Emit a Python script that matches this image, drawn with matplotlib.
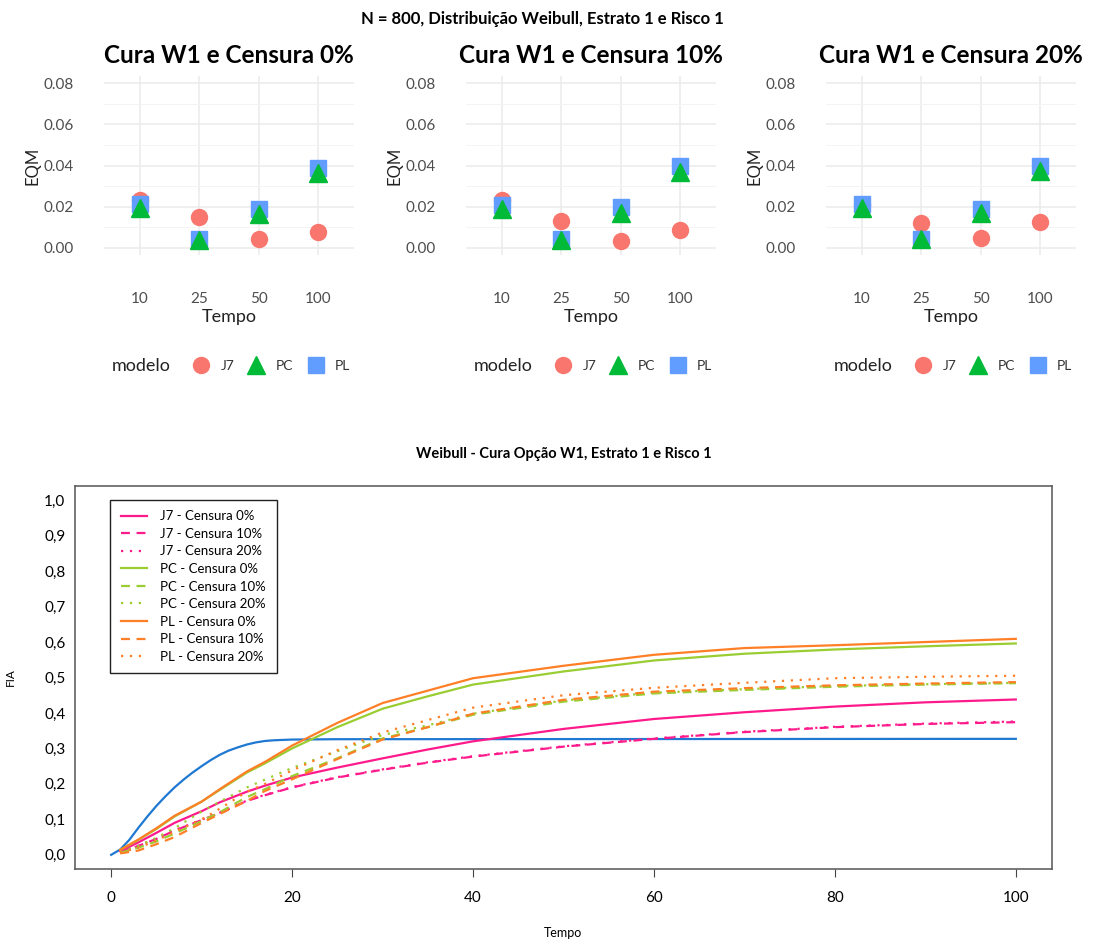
import matplotlib

matplotlib.use("Agg")

import matplotlib.pyplot as plt
from matplotlib.lines import Line2D
from matplotlib.ticker import FixedLocator, MultipleLocator

plt.rcParams["font.family"] = ["Lato", "DejaVu Sans"]

# --- painel superior: EQM por tempo ---
tempos_eqm = ["10", "25", "50", "100"]
censuras = ["0%", "10%", "20%"]
eqm_j7 = [
    [0.0232, 0.0150, 0.0045, 0.0078],
    [0.0234, 0.0133, 0.0036, 0.0089],
    [0.0210, 0.0120, 0.0049, 0.0125],
]
eqm_pc = [
    [0.0192, 0.0037, 0.0165, 0.0364],
    [0.0188, 0.0040, 0.0170, 0.0370],
    [0.0192, 0.0043, 0.0168, 0.0373],
]
eqm_pl = [
    [0.0212, 0.0044, 0.0190, 0.0388],
    [0.0208, 0.0044, 0.0198, 0.0397],
    [0.0216, 0.0045, 0.0190, 0.0400],
]

# --- painel inferior: curvas FIA ---
tempo_curva = [1, 3, 5, 7, 10, 12, 15, 17, 20, 25, 30, 35, 40, 50, 60, 70, 80, 90, 100]
j7_c0 = [0.010, 0.035, 0.062, 0.090, 0.123, 0.148, 0.178, 0.195, 0.218, 0.246, 0.272, 0.297, 0.320,
         0.355, 0.383, 0.402, 0.418, 0.430, 0.438]
j7_c10 = [0.006, 0.025, 0.045, 0.068, 0.098, 0.118, 0.152, 0.168, 0.190, 0.218, 0.240, 0.260, 0.277,
          0.305, 0.327, 0.346, 0.360, 0.369, 0.374]
j7_c20 = [0.007, 0.026, 0.046, 0.069, 0.099, 0.119, 0.153, 0.169, 0.191, 0.219, 0.241, 0.261, 0.278,
          0.306, 0.328, 0.347, 0.361, 0.370, 0.376]
pc_c0 = [0.014, 0.042, 0.073, 0.108, 0.150, 0.183, 0.232, 0.258, 0.300, 0.360, 0.412, 0.447, 0.480,
         0.517, 0.548, 0.567, 0.579, 0.588, 0.596]
pc_c10 = [0.006, 0.020, 0.038, 0.060, 0.095, 0.120, 0.163, 0.185, 0.222, 0.272, 0.328, 0.360, 0.395,
          0.432, 0.455, 0.465, 0.474, 0.480, 0.484]
pc_c20 = [0.008, 0.025, 0.048, 0.075, 0.122, 0.150, 0.190, 0.212, 0.245, 0.292, 0.338, 0.365, 0.398,
          0.435, 0.457, 0.467, 0.476, 0.481, 0.485]
pl_c0 = [0.014, 0.043, 0.075, 0.110, 0.150, 0.185, 0.235, 0.262, 0.308, 0.372, 0.428, 0.463, 0.498,
         0.533, 0.564, 0.583, 0.591, 0.600, 0.609]
pl_c10 = [0.004, 0.012, 0.030, 0.050, 0.090, 0.115, 0.152, 0.180, 0.213, 0.270, 0.325, 0.360, 0.398,
          0.437, 0.460, 0.470, 0.478, 0.483, 0.487]
pl_c20 = [0.006, 0.020, 0.040, 0.065, 0.100, 0.130, 0.178, 0.200, 0.238, 0.295, 0.345, 0.380, 0.415,
          0.450, 0.471, 0.485, 0.498, 0.502, 0.505]

tempo_real = [0, 1, 2, 3, 4, 5, 6, 7, 8, 9, 10, 11, 12, 13, 14, 15, 16, 17, 18, 20, 25, 100]
fia_real = [0.0, 0.015, 0.042, 0.076, 0.108, 0.138, 0.165, 0.190, 0.212, 0.232, 0.250, 0.267, 0.282,
            0.294, 0.303, 0.311, 0.317, 0.321, 0.323, 0.325, 0.326, 0.327]

cor_j7, cor_pc, cor_pl = "#F8766D", "#00BA38", "#619CFF"
rosa, verde, laranja, azul = "#FF1A8C", "#9ACD32", "#FF7F27", "#1F78D1"

fig = plt.figure(figsize=(10.96, 9.40), dpi=100)

fig.text(0.495, 0.980, "N = 800, Distribuição Weibull, Estrato 1 e Risco 1",
         ha="center", va="center", fontsize=12, fontweight="bold")

lefts = [104 / 1096, 466 / 1096, 826 / 1096]
for i, left in enumerate(lefts):
    ax = fig.add_axes([left, 1 - 255 / 940, 250 / 1096, 179 / 940])
    ax.plot(tempos_eqm, eqm_j7[i], "o", color=cor_j7, ms=11.5, ls="none", zorder=3)
    ax.plot(tempos_eqm, eqm_pl[i], "s", color=cor_pl, ms=11, ls="none", zorder=4)
    ax.plot(tempos_eqm, eqm_pc[i], "^", color=cor_pc, ms=13.5, ls="none", zorder=5)
    ax.set_xlim(-0.6, 3.6)
    ax.set_ylim(-0.0034, 0.0835)
    ax.yaxis.set_major_locator(FixedLocator([0.0, 0.02, 0.04, 0.06, 0.08]))
    ax.yaxis.set_minor_locator(MultipleLocator(0.01))
    ax.set_yticklabels(["0.00", "0.02", "0.04", "0.06", "0.08"])
    ax.grid(which="major", color="#EBEBEB", lw=1.1)
    ax.grid(which="minor", axis="y", color="#F4F4F4", lw=0.7)
    ax.set_axisbelow(True)
    for s in ax.spines.values():
        s.set_visible(False)
    ax.tick_params(which="both", length=0)
    ax.tick_params(axis="y", pad=22, labelsize=11, labelcolor="#4D4D4D")
    ax.tick_params(axis="x", pad=27, labelsize=11, labelcolor="#4D4D4D")
    ax.set_xlabel("Tempo", fontsize=13, labelpad=2, color="#222222")
    ax.set_ylabel("EQM", fontsize=12, labelpad=2, color="#222222")
    ax.set_title("Cura W1 e Censura " + censuras[i], fontsize=17.5, fontweight="bold", pad=9)

    handles = [
        Line2D([], [], marker="o", ls="none", color=cor_j7, ms=11.5),
        Line2D([], [], marker="^", ls="none", color=cor_pc, ms=13.5),
        Line2D([], [], marker="s", ls="none", color=cor_pl, ms=11),
    ]
    ax.text(0.03, -0.62, "modelo", transform=ax.transAxes, ha="left", va="center",
            fontsize=13, color="#222222")
    ax.legend(handles, ["J7", "PC", "PL"], ncol=3, frameon=False, loc="center left",
              bbox_to_anchor=(0.31, -0.62), fontsize=10, handlelength=1.0,
              handletextpad=0.9, columnspacing=1.1, labelcolor="#333333")

# --- gráfico inferior ---
ax2 = fig.add_axes([75 / 1096, 1 - 869 / 940, 977 / 1096, 383 / 940])
ax2.plot(tempo_real, fia_real, color=azul, lw=1.6)

series = [
    ("J7 - Censura 0%", j7_c0, rosa, "-"),
    ("J7 - Censura 10%", j7_c10, rosa, (0, (4, 3))),
    ("J7 - Censura 20%", j7_c20, rosa, (0, (1, 3))),
    ("PC - Censura 0%", pc_c0, verde, "-"),
    ("PC - Censura 10%", pc_c10, verde, (0, (4, 3))),
    ("PC - Censura 20%", pc_c20, verde, (0, (1, 3))),
    ("PL - Censura 0%", pl_c0, laranja, "-"),
    ("PL - Censura 10%", pl_c10, laranja, (0, (4, 3))),
    ("PL - Censura 20%", pl_c20, laranja, (0, (1, 3))),
]
for rotulo, valores, cor, estilo in series:
    ax2.plot(tempo_curva, valores, color=cor, ls=estilo, lw=1.6, label=rotulo)

ax2.set_xlim(-4, 104)
ax2.set_ylim(-0.04, 1.04)
ax2.set_xticks([0, 20, 40, 60, 80, 100])
ax2.set_yticks([i / 10 for i in range(11)])
ax2.set_yticklabels([f"{i / 10:.1f}".replace(".", ",") for i in range(11)])
ax2.tick_params(axis="y", length=0, pad=7, labelsize=11)
ax2.tick_params(axis="x", length=6, pad=10, labelsize=11, color="#444444")
for s in ax2.spines.values():
    s.set_color("#555555")
    s.set_linewidth(1.1)
ax2.set_xlabel("Tempo", fontsize=9, labelpad=16)
ax2.set_ylabel("FIA", fontsize=8.5, labelpad=20)
ax2.set_title("Weibull - Cura Opção W1, Estrato 1 e Risco 1", fontsize=10.5,
              fontweight="bold", pad=20)

leg = ax2.legend(loc="upper left", bbox_to_anchor=(0.036, 0.964), fontsize=9.5,
                 frameon=True, fancybox=False, edgecolor="#222222", framealpha=1,
                 labelspacing=0.42, handlelength=2.0, handletextpad=1.0, borderpad=0.8,
                 borderaxespad=0)
leg.get_frame().set_linewidth(1.0)

fig.savefig("out.png", dpi=100)
